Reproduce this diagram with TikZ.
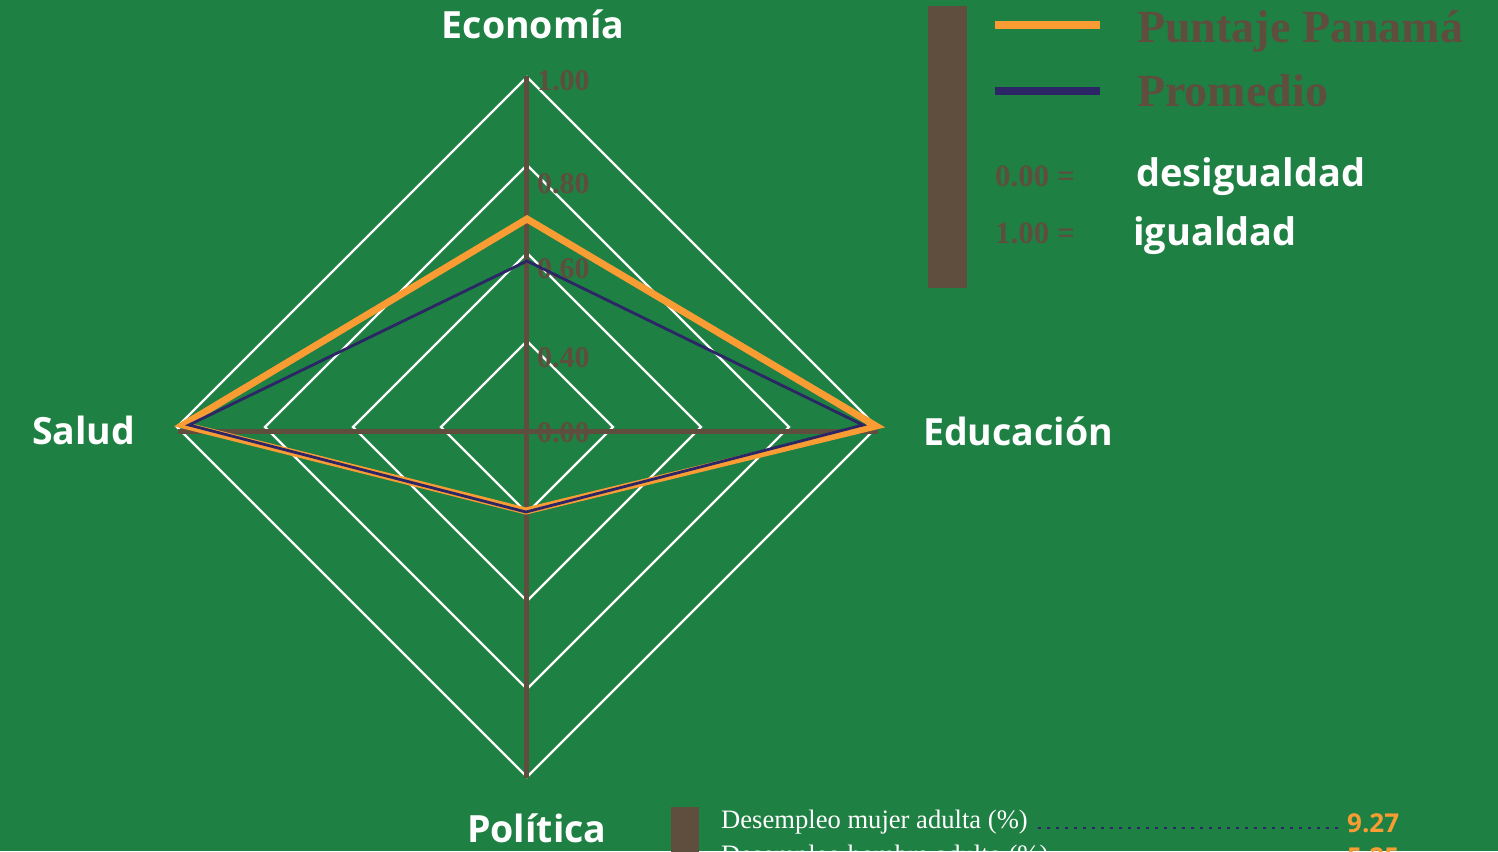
\documentclass[tikz,border=0pt]{standalone}
\usepackage{fontspec}
\setmainfont{Liberation Serif}
\setsansfont{Open Sans}
\definecolor{bg}{RGB}{30,128,66}
\definecolor{brn}{RGB}{95,78,61}
\definecolor{org}{RGB}{248,156,51}
\definecolor{nvy}{RGB}{44,37,102}
\begin{document}
\begin{tikzpicture}[x=1pt,y=-1pt,
  gridline/.style={draw=white,line width=2.2pt},
  axisline/.style={draw=brn,line width=5pt},
  axislbl/.style={text=white,font=\sffamily\bfseries\fontsize{37.5}{40}\selectfont,inner sep=0pt,anchor=base west},
  ticklbl/.style={text=brn,font=\bfseries\fontsize{30}{32}\selectfont,inner sep=0pt,anchor=base west},
  legbig/.style={text=brn,font=\bfseries\fontsize{46}{50}\selectfont,inner sep=0pt,anchor=base west},
  legsml/.style={text=brn,font=\bfseries\fontsize{31}{33}\selectfont,inner sep=0pt,anchor=base west},
  legword/.style={text=white,font=\sffamily\bfseries\fontsize{38}{42}\selectfont,inner sep=0pt,anchor=base west},
  rowtxt/.style={text=white,font=\fontsize{26.6}{30}\selectfont,inner sep=0pt,anchor=base west},
  rowval/.style={text=org,font=\sffamily\bfseries\fontsize{26}{30}\selectfont,inner sep=0pt,anchor=base west},
  dots/.style={draw=nvy,line width=2.8pt,dash pattern=on 2.8pt off 6.2pt},
  orgline/.style={draw=org,line width=7pt,line join=miter},
  nvyline/.style={draw=nvy,line width=2.8pt,line join=miter}]
\useasboundingbox (0,0) rectangle (1498,851);
\clip (0,0) rectangle (1498,851);
\fill[bg] (0,0) rectangle (1498,851);
% grid diamonds
\foreach \r in {350,262,174,86}{
  \draw[gridline] (527,427-\r) -- (527+\r,427) -- (527,427+\r) -- (527-\r,427) -- cycle;
}
% axes
\coordinate (at) at (526.5,76);
\coordinate (ab) at (526.5,778);
\coordinate (al) at (178,431.5);
\coordinate (ar) at (878,431.5);
\draw[axisline] (at) -- (ab);
\draw[axisline] (al) -- (ar);
% tick labels
\node[ticklbl] (t100) at (537,90) {1.00};
\node[ticklbl] (t080) at (537,193) {0.80};
\node[ticklbl] (t060) at (537,278) {0.60};
\node[ticklbl] (t040) at (537,367) {0.40};
\node[ticklbl] (t000) at (537,442) {0.00};
% data
\coordinate (ot) at (527,219);
\coordinate (or) at (876,426);
\coordinate (ob) at (526,511);
\coordinate (ol) at (183,425);
\coordinate (nt) at (527,261);
\coordinate (nr) at (863,425);
\coordinate (nb) at (526,512);
\coordinate (nl) at (189,425);
\draw[orgline] (ot) -- (or) -- (ob) -- (ol) -- cycle;
\draw[nvyline] (nt) -- (nr) -- (nb) -- (nl) -- cycle;
% axis labels
\node[axislbl,anchor=base] (eco) at (533,38) {Economía};
\node[axislbl] (sal) at (32,444) {Salud};
\node[axislbl] (edu) at (923,445) {Educación};
\node[axislbl] (pol) at (467,842) {Política};
% legend
\fill[brn] (928,6) rectangle (967,288);
\coordinate (l1a) at (995,25);
\coordinate (l1b) at (1100,25);
\coordinate (l2a) at (995,91);
\coordinate (l2b) at (1100,91);
\draw[org,line width=8.5pt] (l1a) -- (l1b);
\draw[nvy,line width=8.5pt] (l2a) -- (l2b);
\node[legbig] (pp) at (1137,42) {Puntaje Panamá};
\node[legbig] (pr) at (1137,106) {Promedio};
\node[legsml] (z0) at (995,186) {0.00 =};
\node[legsml] (z1) at (995,243) {1.00 =};
\node[legword] (des) at (1136,186) {desigualdad};
\node[legword] (igu) at (1133,245) {igualdad};
% bottom table
\fill[brn] (671,807) rectangle (699,860);
\node[rowtxt] (r1) at (721,828) {Desempleo mujer adulta (\%)};
\node[rowval] (v1) at (1347,832) {9.27};
\draw[dots] (1038,828) -- (1340,828);
\node[rowtxt] (r2) at (721,863) {Desempleo hombre adulto (\%)};
\node[rowval] (v2) at (1347,866) {5.25};
\draw[dots] (1058,863) -- (1340,863);
\end{tikzpicture}
\end{document}
